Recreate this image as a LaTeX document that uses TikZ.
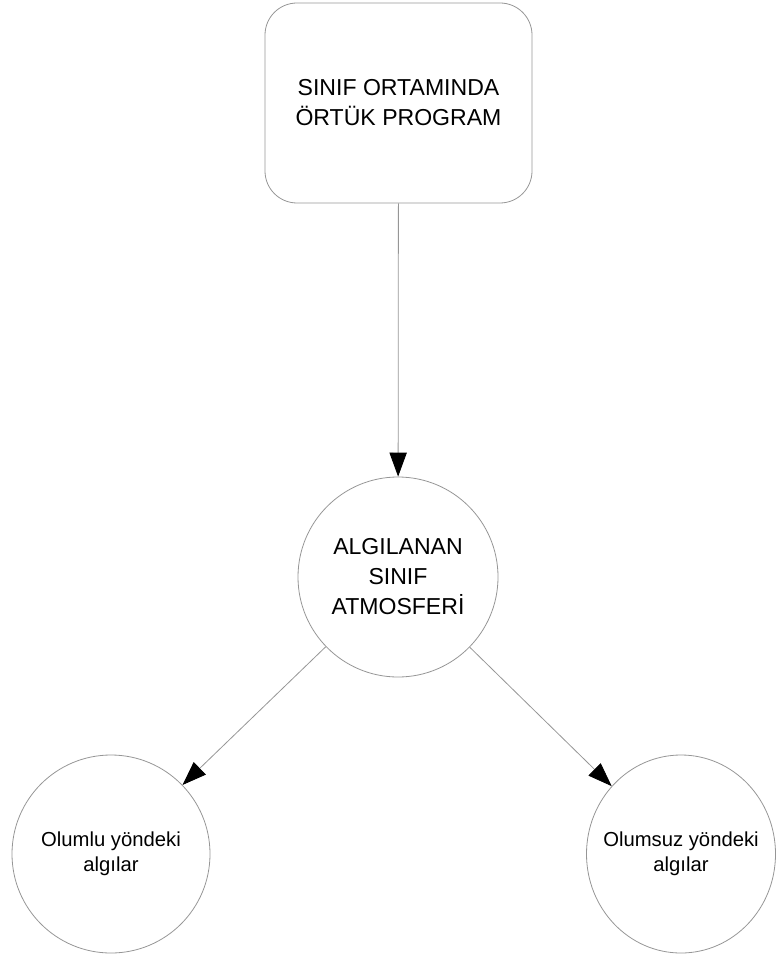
\documentclass[tikz,border=0pt]{standalone}
\usepackage{fontspec}
\setmainfont{Liberation Sans}
\definecolor{edgegray}{RGB}{150,150,150}
\usetikzlibrary{arrows.meta,shapes.geometric}

\begin{document}
\begin{tikzpicture}[x=0.75pt,y=-0.75pt,
    box/.style={draw=edgegray, line width=0.6pt, inner sep=0pt, align=center},
    link/.style={draw=edgegray, line width=0.6pt, -{Triangle[length=18pt,width=13pt,fill=black,color=black]}},
    bigfont/.style={font=\fontsize{17.3}{22.5}\selectfont},
    smallfont/.style={font=\fontsize{15.2}{18.75}\selectfont}]
  \useasboundingbox (0,0) rectangle (776,955);

  %% Top box
  \node[box, bigfont, rectangle, rounded corners=24pt,
        minimum width=200.25pt, minimum height=150pt]
    (prog) at (398.5,103) {SINIF ORTAMINDA\\ÖRTÜK PROGRAM};

  %% Middle circle
  \node[box, bigfont, circle, minimum size=150pt]
    (atmos) at (398,577) {ALGILANAN\\SINIF\\ATMOSFERİ};

  %% Bottom circles
  \node[box, smallfont, ellipse, minimum width=148.5pt, minimum height=148.5pt]
    (olumlu) at (111,854) {Olumlu yöndeki\\algılar};
  \node[box, smallfont, ellipse, inner xsep=-12pt,
        minimum width=141.75pt, minimum height=148.5pt]
    (olumsuz) at (681,854) {Olumsuz yöndeki\\algılar};

  %% Arrows
  \draw[link] (prog) -- (atmos);
  \draw[link] (atmos) -- (olumlu);
  \draw[link] (atmos) -- (olumsuz);
\end{tikzpicture}
\end{document}
